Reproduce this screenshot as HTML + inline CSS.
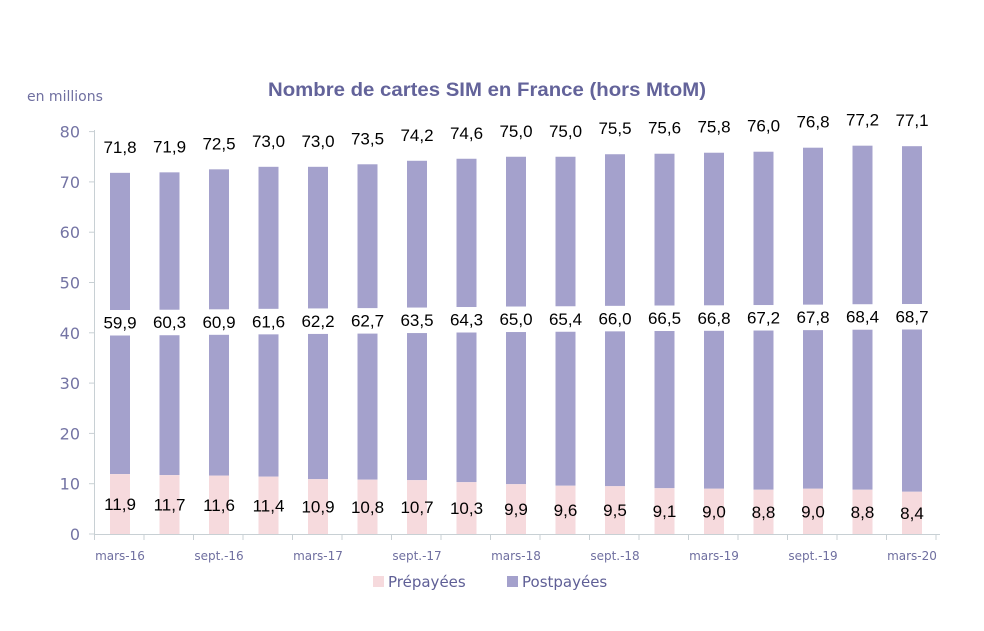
<!DOCTYPE html>
<html><head><meta charset="utf-8"><style>
html,body{margin:0;padding:0;background:#fff;}
svg{display:block;}
.d{font-family:"Liberation Sans",Arial,sans-serif;font-size:17px;fill:#000;}
.a{font-family:"DejaVu Sans",sans-serif;}
</style></head><body>
<svg id="c" width="984" height="631" xmlns="http://www.w3.org/2000/svg"></svg>
<script>
const tot=[71.8,71.9,72.5,73.0,73.0,73.5,74.2,74.6,75.0,75.0,75.5,75.6,75.8,76.0,76.8,77.2,77.1];
const post=[59.9,60.3,60.9,61.6,62.2,62.7,63.5,64.3,65.0,65.4,66.0,66.5,66.8,67.2,67.8,68.4,68.7];
const pre=[11.9,11.7,11.6,11.4,10.9,10.8,10.7,10.3,9.9,9.6,9.5,9.1,9.0,8.8,9.0,8.8,8.4];
const Y=v=>534-v*5.03;
const f=v=>v.toFixed(1).replace('.',',');
let s='';
s+='<text x="487" y="96" text-anchor="middle" style="font-family:\'Liberation Sans\',sans-serif;font-size:19px;font-weight:bold;fill:#63639a" textLength="438" lengthAdjust="spacingAndGlyphs">Nombre de cartes SIM en France (hors MtoM)</text>';
s+='<text x="27" y="101" class="a" style="font-size:14px;fill:#6f6fa0">en millions</text>';
s+='<line x1="94.5" y1="130" x2="94.5" y2="534" stroke="#c8d0d4"/>';
s+='<line x1="94" y1="534.5" x2="940" y2="534.5" stroke="#c8d0d4"/>';
for(let v=0;v<=80;v+=10){const y=Y(v);s+=`<line x1="89" y1="${y}" x2="94" y2="${y}" stroke="#c8d0d4"/><text x="80" y="${y+6}" text-anchor="end" class="a" style="font-size:16px;fill:#7474a4">${v}</text>`;}
for(let i=0;i<=17;i++){const x=94.5+i*49.5;s+=`<line x1="${x}" y1="534" x2="${x}" y2="540" stroke="#c8d0d4"/>`;}
const labs=['mars-16','sept.-16','mars-17','sept.-17','mars-18','sept.-18','mars-19','sept.-19','mars-20'];
for(let k=0;k<9;k++){const x=120+k*99;s+=`<text x="${x}" y="560" text-anchor="middle" class="a" style="font-size:12px;fill:#6f6fa0">${labs[k]}</text>`;}
for(let i=0;i<17;i++){
 const cx=120+i*49.5,x=cx-10;
 const yt=Y(tot[i]),yp=Y(pre[i]);
 s+=`<rect x="${x}" y="${yt}" width="20" height="${yp-yt}" fill="#a4a1cc"/>`;
 s+=`<rect x="${x}" y="${yp}" width="20" height="${534-yp}" fill="#f6dadd"/>`;
 const lc=322.5-(post[i]-59.9)*0.68;
 s+=`<rect x="${x-1}" y="${lc-12.5}" width="22" height="25.5" fill="#fff"/>`;
 s+=`<text x="${cx}" y="${lc+6}" text-anchor="middle" class="d">${f(post[i])}</text>`;
 s+=`<text x="${cx}" y="${yt-20}" text-anchor="middle" class="d">${f(tot[i])}</text>`;
 s+=`<text x="${cx}" y="${(yp+534)/2+6}" text-anchor="middle" class="d">${f(pre[i])}</text>`;
}
s+='<rect x="373" y="576" width="11" height="11" fill="#f6dadd"/><text x="388" y="587" class="a" style="font-size:15px;fill:#5f5f96">Prépayées</text>';
s+='<rect x="507" y="576" width="11" height="11" fill="#a4a1cc"/><text x="522" y="587" class="a" style="font-size:15px;fill:#5f5f96">Postpayées</text>';
document.getElementById('c').innerHTML=s;
</script>
</body></html>
